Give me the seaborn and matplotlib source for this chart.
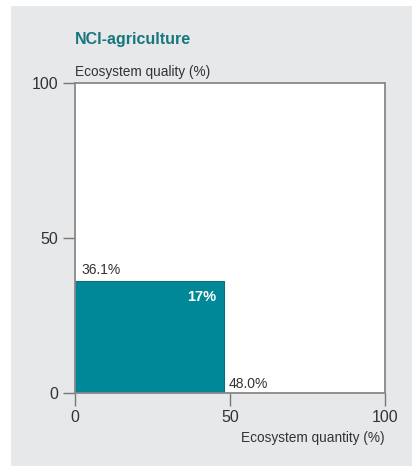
import matplotlib
matplotlib.use("Agg")
import matplotlib.pyplot as plt
import seaborn as sns
from matplotlib.patches import Rectangle

# --- data ---
title = "NCI-agriculture"
quantity = 48.0   # ecosystem quantity (%)
quality = 36.1    # ecosystem quality (%)
nci = 17          # NCI (%)
ticks = [0, 50, 100]

sns.set_theme(style="white")
plt.rcParams['font.family'] = ['Liberation Sans Narrow', 'Liberation Sans', 'DejaVu Sans']

TEAL = "#018898"
GREY = "#e6e8ea"
TXT = "#333333"

fig = plt.figure(figsize=(4.12, 4.66), dpi=100)
fig.patch.set_facecolor("white")
fig.patches.append(Rectangle((11 / 412, 0), 1, 460 / 466, transform=fig.transFigure,
                             facecolor=GREY, edgecolor="none", zorder=-10))

ax = fig.add_axes([75 / 412, 73 / 466, 310 / 412, 310 / 466])
ax.set_facecolor("white")
ax.bar(0, quality, width=quantity, align="edge", color=TEAL, edgecolor="#0b6e78", linewidth=0.8)

ax.set_xlim(0, 100)
ax.set_ylim(0, 100)
ax.set_xticks(ticks)
ax.set_yticks(ticks)
ax.tick_params(direction="out", length=9, width=1, color="#777777", labelsize=11.5,
               labelcolor=TXT, pad=3, bottom=True, left=True)
for s in ax.spines.values():
    s.set_color("#888888")
    s.set_linewidth(1.3)

# labels
ax.text(2, quality + 1.3, f"{quality:.1f}%", fontsize=10, color=TXT, ha="left", va="bottom")
ax.text(quantity - 2.3, quality - 5, f"{nci}%", fontsize=10.5, color="white", fontweight="bold",
        ha="right", va="center")
ax.text(quantity + 1.5, 0.7, f"{quantity:.1f}%", fontsize=10, color=TXT, ha="left", va="bottom")

ax.text(0, 101.3, "Ecosystem quality (%)", fontsize=9.8, color=TXT, ha="left", va="bottom")
ax.text(100, -14.5, "Ecosystem quantity (%)", fontsize=9.8, color=TXT, ha="right", va="center")
ax.text(0, 111.5, title, fontsize=11.5, color="#17767e", fontweight="bold", ha="left", va="bottom")

fig.savefig("out.png", dpi=100)
